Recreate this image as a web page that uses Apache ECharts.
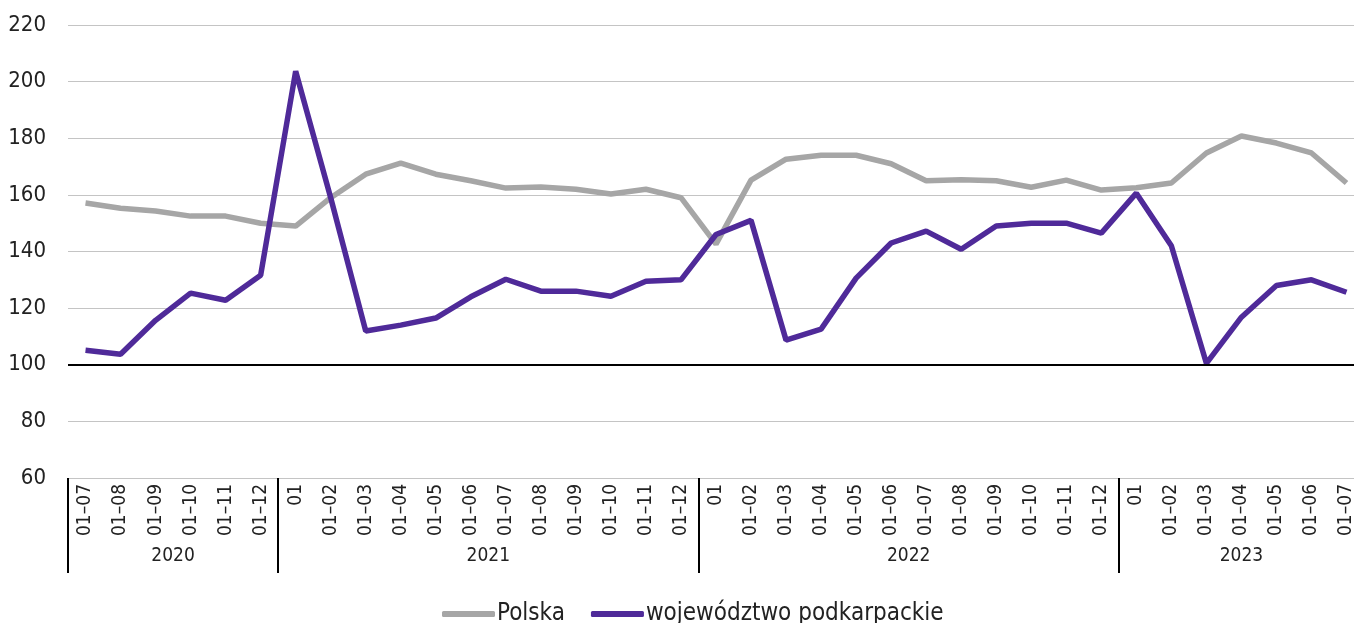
<!DOCTYPE html>
<html>
<head>
<meta charset="utf-8">
<script src="https://cdn.jsdelivr.net/npm/echarts@6/dist/echarts.min.js"></script>
<style>
html,body{margin:0;padding:0;background:#fff;overflow:hidden;width:1354px;height:623px;}
#chart{width:1364px;height:623px;}
</style>
</head>
<body>
<div id="chart"></div>
<script>
var categories = ['01–07','01–08','01–09','01–10','01–11','01–12',
  '01','01–02','01–03','01–04','01–05','01–06','01–07','01–08','01–09','01–10','01–11','01–12',
  '01','01–02','01–03','01–04','01–05','01–06','01–07','01–08','01–09','01–10','01–11','01–12',
  '01','01–02','01–03','01–04','01–05','01–06','01–07'];
var years = ['2020','2021','2022','2023'];
var yearCounts = [6,12,12,7];
var polska = [157.1,155.3,154.3,152.5,152.5,150,149,159,167.3,171.2,167.3,165,162.4,162.8,162,160.3,162,159,
  142.6,165.2,172.6,174,174,171,165,165.3,165,162.7,165.2,161.7,162.5,164.2,174.8,180.8,178.3,174.8,164.2];
var podkarpackie = [105.1,103.7,115.7,125.3,122.8,131.6,203.7,159,111.9,114,116.5,124,130.2,126,126,124.2,129.5,130,
  146,151,108.7,112.6,130.6,143,147.2,140.8,149,150,150,146.5,160.6,142,100.5,116.8,128,130,125.6];
var yTicks = {min:60, max:220, interval:20};

var boundaries = [], yearCenters = [], acc = 0;
yearCounts.forEach(function(c){ boundaries.push(acc); yearCenters.push(acc + c/2); acc += c; });

var font = "'Liberation Sans Narrow','DejaVu Sans Condensed','Liberation Sans',sans-serif";
var chart = echarts.init(document.getElementById('chart'));
chart.setOption({
  animation:false,
  grid:{left:68, top:25, right:0, height:453, containLabel:false},
  legend:{
    left:437, top:597, itemWidth:53, itemHeight:6, itemGap:26, icon:'roundRect',
    textStyle:{fontFamily:font, fontSize:24, color:'#222', padding:[0,0,0,-3]},
    data:['Polska','województwo podkarpackie']
  },
  xAxis:[{
    type:'category', data:categories, boundaryGap:true, position:'bottom',
    axisLine:{show:false}, axisTick:{show:false},
    axisLabel:{rotate:90, interval:0, margin:6, fontFamily:font, fontSize:19, color:'#222'},
    splitLine:{show:false}
  },{
    type:'value', min:0, max:categories.length, position:'bottom',
    axisLine:{show:false},
    axisTick:{show:true, customValues:boundaries, length:95, lineStyle:{color:'#000', width:2}},
    axisLabel:{show:true, customValues:yearCenters, margin:69, fontFamily:font, fontSize:19, color:'#222',
      formatter:function(v){ var i = yearCenters.indexOf(v); return i>=0 ? years[i] : ''; }},
    splitLine:{show:false}
  }],
  yAxis:{
    type:'value', min:yTicks.min, max:yTicks.max, interval:yTicks.interval,
    axisLine:{show:false}, axisTick:{show:false},
    axisLabel:{margin:22, fontFamily:font, fontSize:22, color:'#222'},
    splitLine:{lineStyle:{color:'#c4c4c4', width:1}}
  },
  series:[{
    name:'Polska', type:'line', data:polska, showSymbol:false, symbol:'none',
    lineStyle:{color:'#a6a6a6', width:5.5}, itemStyle:{color:'#a6a6a6'}, z:2,
    markLine:{silent:true, symbol:'none', label:{show:false},
      lineStyle:{color:'#000', width:2, type:'solid'}, data:[{yAxis:100}]}
  },{
    name:'województwo podkarpackie', type:'line', data:podkarpackie, showSymbol:false, symbol:'none',
    lineStyle:{color:'#4f2a99', width:5.5}, itemStyle:{color:'#4f2a99'}, z:3
  }]
});
</script>
</body>
</html>
